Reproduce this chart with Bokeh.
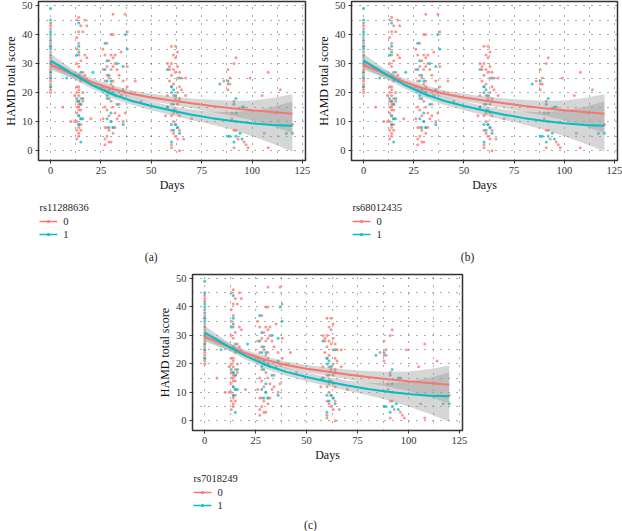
from bokeh.plotting import figure
from bokeh.models import Label, FixedTicker, Spacer
from bokeh.layouts import column, row
from bokeh.core.properties import value
from bokeh.embed import file_html
from bokeh.resources import INLINE

RED = "#F8766D"
CYAN = "#00BFC4"
FONT = "Liberation Serif"
FONT_V = value(FONT)

# HAMD scores per visit day, genotype 0
g0_scores_by_day = {
    0: [20, 21, 22, 23, 24, 25, 26, 27, 28, 29, 30, 31, 32, 34, 36, 37, 39, 42, 43, 44],
    6: [15], 10: [10], 12: [19, 10],
    13: [45, 39, 35, 30, 22, 20, 17, 15, 13, 10, 7, 4],
    14: [46, 41, 37, 33, 29, 26, 22, 21, 19, 17, 16, 15, 14, 12, 9, 8, 6, 5],
    15: [43, 31, 24, 18, 16, 14, 11, 9, 7],
    16: [41, 27, 20, 17], 17: [45, 33, 26], 18: [43, 32], 20: [11],
    26: [35, 28, 22, 11], 27: [33, 24, 21, 15, 8, 4, 2],
    28: [37, 29, 26, 18, 14, 8, 5], 29: [31, 25, 20, 12, 7, 3],
    30: [40, 33, 28, 23, 17, 10, 3], 31: [47, 40, 32, 29, 24, 22, 15, 8, 6],
    32: [33, 30, 19, 13, 8], 33: [28, 11], 34: [26, 16, 12], 35: [34, 19],
    36: [24, 10], 37: [47, 20, 13], 38: [41, 29, 22], 40: [20], 42: [24], 45: [17],
    57: [12], 58: [30, 19, 15], 59: [28, 24, 29],
    60: [36, 30, 26, 22, 16, 12, 7, 2, 1], 61: [33, 28, 23, 19, 13, 10, 6],
    62: [36, 32, 27, 18, 14, 9, 5], 63: [34, 29, 25, 20, 16, 13, 8, 4],
    64: [27, 22, 18, 12, 7, 0], 65: [25, 21], 66: [4], 67: [25, 19], 70: [11],
    86: [24], 88: [28, 23, 21], 89: [25, 23], 90: [13, 11], 91: [30, 17, 7, 1],
    92: [32, 10, 7], 93: [4], 96: [3], 97: [2], 98: [1], 99: [25], 105: [19],
    106: [6], 108: [27, 1], 112: [13], 114: [21], 120: [9],
}

# HAMD scores per visit day, genotype 1
g1_scores_by_day = {
    0: [22, 25, 27, 30, 33, 35, 36, 38, 40, 41, 45, 49],
    8: [25], 13: [18, 33], 14: [44, 36, 34, 17, 12, 9], 15: [27, 25, 16, 11, 3],
    16: [18, 11], 21: [27], 27: [37, 28], 28: [31, 24, 19, 11], 29: [26, 21, 18, 8],
    30: [24, 13, 10], 31: [20, 8], 33: [30, 16], 36: [29, 21, 9], 37: [40], 38: [35],
    58: [28, 15], 60: [22, 20, 9, 3], 61: [21, 16, 14, 7], 62: [19, 9], 63: [8],
    64: [25, 17, 6], 84: [23], 88: [24, 5], 89: [5], 91: [16, 3], 92: [18, 13, 5],
    94: [6], 95: [15, 4], 96: [15], 117: [6], 120: [6],
}

# Smoothed trend with confidence band
fit_days = [0, 10, 20, 30, 40, 50, 60, 70, 80, 90, 100, 110, 120]
g0_fit = [29.6, 26.6, 23.8, 21.4, 19.6, 18.3, 17.3, 16.3, 15.4, 14.6, 13.9, 13.3, 12.7]
g0_low = [27.8, 25.3, 22.6, 20.2, 18.4, 17.0, 15.9, 14.6, 13.3, 12.0, 10.5, 8.5, 6.0]
g0_high = [31.4, 27.9, 25.0, 22.6, 20.8, 19.6, 18.7, 18.0, 17.5, 17.2, 17.3, 18.1, 19.4]
g1_fit = [31.0, 26.8, 22.8, 19.6, 17.2, 15.4, 13.8, 12.4, 11.2, 10.2, 9.4, 8.8, 8.6]
g1_low = [28.6, 25.2, 21.5, 18.3, 15.8, 13.9, 12.2, 10.6, 9.0, 7.2, 5.0, 2.5, -0.3]
g1_high = [33.4, 28.4, 24.1, 20.9, 18.6, 16.9, 15.4, 14.2, 13.4, 13.2, 13.8, 15.0, 17.0]

x_ticks = [0, 25, 50, 75, 100, 125]
y_ticks = [0, 10, 20, 30, 40, 50]
genotype_labels = ["0", "1"]

X_RANGE = (-6, 126.5)
Y_RANGE = (-3.4, 51.4)


def expand(scores_by_day):
    xs, ys = [], []
    for d, vals in scores_by_day.items():
        for v in vals:
            xs.append(d)
            ys.append(v)
    return xs, ys


def scatter_panel(w, h, left, right, top, bottom):
    p = figure(width=w, height=h, output_backend="svg", toolbar_location=None,
               x_range=X_RANGE, y_range=Y_RANGE,
               min_border_left=left, min_border_right=right,
               min_border_top=top, min_border_bottom=bottom,
               background_fill_color="white", border_fill_color="white")
    p.outline_line_color = "#333333"
    p.outline_line_width = 1.5

    p.xaxis.ticker = FixedTicker(ticks=x_ticks, minor_ticks=[12.5, 37.5, 62.5, 87.5, 112.5])
    p.yaxis.ticker = FixedTicker(ticks=y_ticks, minor_ticks=[5, 15, 25, 35, 45])
    for ax in (p.xaxis, p.yaxis):
        ax.axis_line_color = None
        ax.major_tick_line_color = "#333333"
        ax.major_tick_in = 0
        ax.major_tick_out = 3
        ax.minor_tick_line_color = None
        ax.major_label_text_font = FONT
        ax.major_label_text_font_size = "10.5px"
        ax.major_label_text_color = "#333333"
        ax.axis_label_text_font = FONT
        ax.axis_label_text_font_size = "12px"
        ax.axis_label_text_font_style = "normal"
        ax.axis_label_text_color = "#111111"
        ax.major_label_standoff = 2
        ax.axis_label_standoff = 1
    p.xaxis.axis_label = "Days"
    p.yaxis.axis_label = "HAMD total score"

    for g in (p.xgrid, p.ygrid):
        g.grid_line_color = "#555555"
        g.grid_line_dash = "1 7"
        g.grid_line_width = 1
        g.minor_grid_line_color = "#555555"
        g.minor_grid_line_dash = "1 7"
        g.minor_grid_line_width = 1

    x0, y0 = expand(g0_scores_by_day)
    x1, y1 = expand(g1_scores_by_day)
    p.scatter(x0, y0, size=3, color=RED, alpha=0.75, line_width=0)
    p.scatter(x1, y1, size=3, color=CYAN, alpha=0.75, line_width=0)

    p.varea(x=fit_days, y1=g0_low, y2=g0_high, fill_color="#999999", fill_alpha=0.4)
    p.varea(x=fit_days, y1=g1_low, y2=g1_high, fill_color="#999999", fill_alpha=0.4)
    p.line(fit_days, g0_fit, line_color=RED, line_width=2)
    p.line(fit_days, g1_fit, line_color=CYAN, line_width=2)
    return p


def legend_panel(snp, caption, w, h, left, right, key_x, title_y, cap_x, cap_y):
    # Strip under the plot. The column lines its frame up with the plot frame
    # above, so the x range spans the frame's pixel extent within the panel;
    # coordinates are then panel pixels (y measured from the strip's top).
    q = figure(width=w, height=h, output_backend="svg", toolbar_location=None,
               x_range=(left, w - right), y_range=(h, 0),
               x_axis_type=None, y_axis_type=None,
               min_border=0, background_fill_color="white",
               border_fill_color="white")
    q.outline_line_color = None
    q.xgrid.visible = False
    q.ygrid.visible = False

    q.text(x=[key_x], y=[title_y], text=[snp], text_align="left",
           text_baseline="middle", text_font=FONT_V, text_font_size="10.5px",
           text_color="#222222")
    for i, (lab, col) in enumerate(zip(genotype_labels, (RED, CYAN))):
        ky = title_y + 14 + 13 * i
        q.segment(x0=[key_x], y0=[ky], x1=[key_x + 18], y1=[ky],
                  line_color=col, line_width=1.3)
        q.scatter(x=[key_x + 9], y=[ky], size=3, color=col, line_width=0)
        q.text(x=[key_x + 24], y=[ky], text=[lab], text_align="left",
               text_baseline="middle", text_font=FONT_V,
               text_font_size="10.5px", text_color="#222222")

    q.add_layout(Label(x=cap_x, y=cap_y, text=caption, text_align="center",
                       text_baseline="middle", text_font=FONT,
                       text_font_size="11.5px", text_color="#222222"))
    return q


pa = column(scatter_panel(311, 196, 35, 6, 1, 36),
            legend_panel("rs11288636", "(a)", 311, 69, 35, 6, 36, 11, 149, 60))
pb = column(scatter_panel(311, 196, 40, 5, 1, 36),
            legend_panel("rs68012435", "(b)", 311, 69, 40, 5, 41, 11, 156, 60))
pc = column(scatter_panel(322, 201, 42, 10, 9, 36),
            legend_panel("rs7018249", "(c)", 322, 65, 42, 10, 43, 12, 160, 58))

layout = column(row(pa, pb), row(Spacer(width=150, height=266), pc))
open("out.html", "w").write(file_html(layout, INLINE))
